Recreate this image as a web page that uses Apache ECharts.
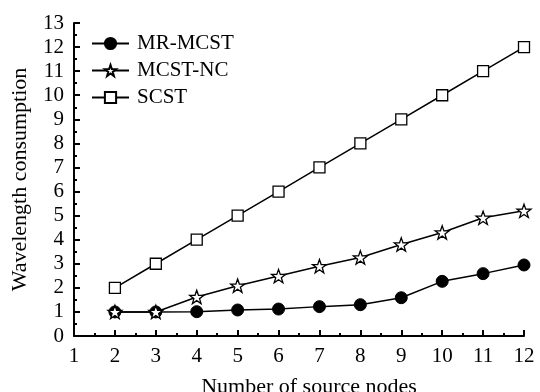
<!DOCTYPE html>
<html>
<head>
<meta charset="utf-8">
<script src="https://cdn.jsdelivr.net/npm/echarts@6/dist/echarts.min.js"></script>
<style>html,body{margin:0;padding:0;background:#fff;}#c{width:540px;height:392px;}</style>
</head>
<body>
<div id="c"></div>
<script>
var xValues = [2, 3, 4, 5, 6, 7, 8, 9, 10, 11, 12];
var mrMcst = [1, 1, 1.01, 1.08, 1.12, 1.22, 1.30, 1.59, 2.27, 2.59, 2.95];
var mcstNc = [1, 1, 1.62, 2.09, 2.49, 2.90, 3.26, 3.80, 4.30, 4.91, 5.20];
var scst = [2, 3, 4, 5, 6, 7, 8, 9, 10, 11, 12];
var seriesNames = ['MR-MCST', 'MCST-NC', 'SCST'];
var xAxisTitle = 'Number of source nodes';
var yAxisTitle = 'Wavelength consumption';

function pairs(vals) { return xValues.map(function (x, i) { return [x, vals[i]]; }); }

var starPath = 'path://M50,0 L61.76,33.82 L97.55,34.55 L69.02,56.18 L79.39,90.45 L50,70 L20.61,90.45 L30.98,56.18 L2.45,34.55 L38.24,33.82 Z';
var font = '"Liberation Serif", "Times New Roman", serif';

var chart = echarts.init(document.getElementById('c'), null, {renderer: 'canvas'});
var axisCommon = {
  axisLine: {show: true, lineStyle: {color: '#000', width: 2}},
  axisTick: {show: true, inside: true, length: 6, lineStyle: {color: '#000', width: 2}},
  minorTick: {show: true, splitNumber: 2, length: 3, lineStyle: {color: '#000', width: 2}},
  splitLine: {show: false},
  axisLabel: {color: '#000', fontFamily: font, fontSize: 21, margin: 10},
  nameTextStyle: {color: '#000', fontFamily: font, fontSize: 22}
};
chart.setOption({
  animation: false,
  backgroundColor: '#fff',
  grid: {left: 74, right: 16, top: 23, bottom: 56, containLabel: false, outerBoundsMode: 'none'},
  legend: {
    left: 91, top: 33, orient: 'vertical', padding: 0,
    itemWidth: 37, itemHeight: 14, itemGap: 6,
    textStyle: {color: '#000', fontFamily: font, fontSize: 21, padding: [0, 0, 0, 3]},
    data: seriesNames
  },
  xAxis: Object.assign({}, axisCommon, {
    type: 'value', min: 1, max: 12, interval: 1,
    name: xAxisTitle, nameLocation: 'middle', nameGap: 40,
    nameTextStyle: Object.assign({}, axisCommon.nameTextStyle, {padding: [0, 0, 0, 20]})
  }),
  yAxis: Object.assign({}, axisCommon, {
    type: 'value', min: 0, max: 13, interval: 1,
    name: yAxisTitle, nameLocation: 'middle', nameGap: 43
  }),
  series: [
    {name: seriesNames[0], type: 'line', data: pairs(mrMcst), symbol: 'circle', symbolSize: 12,
     lineStyle: {color: '#000', width: 1.5}, itemStyle: {color: '#000', borderColor: '#000', borderWidth: 1}},
    {name: seriesNames[1], type: 'line', data: pairs(mcstNc), symbol: starPath, symbolSize: 14, symbolKeepAspect: true,
     lineStyle: {color: '#000', width: 1.5}, itemStyle: {color: '#fff', borderColor: '#000', borderWidth: 1.3}},
    {name: seriesNames[2], type: 'line', data: pairs(scst), symbol: 'rect', symbolSize: 11,
     lineStyle: {color: '#000', width: 1.5}, itemStyle: {color: '#fff', borderColor: '#000', borderWidth: 1.3}}
  ]
});
</script>
</body>
</html>
